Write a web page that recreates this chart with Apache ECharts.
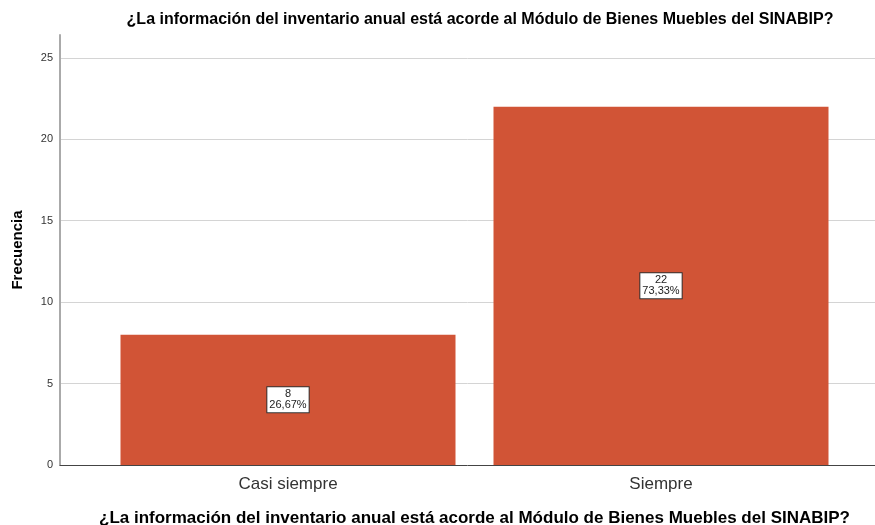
<!DOCTYPE html>
<html>
<head>
<meta charset="utf-8">
<script src="https://cdn.jsdelivr.net/npm/echarts@6/dist/echarts.min.js"></script>
<style>
  html, body { margin: 0; padding: 0; background: #fff; }
  #main { width: 875px; height: 525px; }
</style>
</head>
<body>
<div id="main"></div>
<script>
var categories = ['Casi siempre', 'Siempre'];
var counts = [8, 22];
var percents = ['26,67%', '73,33%'];
var yTicks = [0, 5, 10, 15, 20, 25];

var titleText = '¿La información del inventario anual está acorde al Módulo de Bienes Muebles del SINABIP?';
var yMax = 26.4;

var myChart = echarts.init(document.getElementById('main'));

option = {
    backgroundColor: '#fff',
    animation: false,
    textStyle: { fontFamily: 'Liberation Sans' },
    title: {
        text: titleText,
        left: 475,
        textAlign: 'center',
        top: 7,
        textStyle: { fontSize: 16, fontWeight: 'bold', color: '#000' }
    },
    grid: [
        { left: 60, right: 0, top: 35, bottom: 60, outerBoundsMode: 'none' },
        { left: 101.5, right: 27.5, top: 35, bottom: 60, outerBoundsMode: 'none' }
    ],
    xAxis: [
        {
            gridIndex: 0,
            type: 'category',
            data: [''],
            axisLine: { lineStyle: { color: '#444', width: 1 } },
            axisTick: { show: false },
            axisLabel: { show: false }
        },
        {
            gridIndex: 1,
            type: 'category',
            data: categories,
            name: titleText,
            nameLocation: 'middle',
            nameGap: 45,
            nameTextStyle: { fontSize: 17, fontWeight: 'bold', color: '#000' },
            axisLine: { show: false },
            axisTick: { show: false },
            axisLabel: { fontSize: 17, color: '#333', margin: 11 }
        }
    ],
    yAxis: [
        {
            gridIndex: 0,
            type: 'value',
            min: 0,
            max: yMax,
            interval: 5,
            name: 'Frecuencia',
            nameLocation: 'middle',
            nameGap: 35,
            nameTextStyle: { fontSize: 15, fontWeight: 'bold', color: '#000' },
            axisLine: { show: true, lineStyle: { color: '#aaa', width: 2 } },
            axisTick: { show: false },
            axisLabel: {
                fontSize: 11,
                color: '#333',
                margin: 7,
                showMaxLabel: false,
                formatter: function (v) { return yTicks.indexOf(v) >= 0 ? String(v) : ''; }
            },
            splitLine: { show: true, showMaxLine: false, showMinLine: false, lineStyle: { color: '#d4d4d4', width: 1 } }
        },
        {
            gridIndex: 1,
            type: 'value',
            min: 0,
            max: yMax,
            show: false,
            splitLine: { show: false }
        }
    ],
    series: [
        {
            type: 'bar',
            xAxisIndex: 1,
            yAxisIndex: 1,
            data: counts,
            barWidth: 335,
            itemStyle: { color: '#D15436' },
            label: {
                show: true,
                position: 'inside',
                formatter: function (p) { return p.value + '\n' + percents[p.dataIndex]; },
                fontSize: 11,
                lineHeight: 11,
                color: '#222',
                backgroundColor: '#fff',
                borderColor: '#333',
                borderWidth: 1,
                padding: [2, 2, 1, 2]
            }
        }
    ]
};

myChart.setOption(option);
</script>
</body>
</html>
